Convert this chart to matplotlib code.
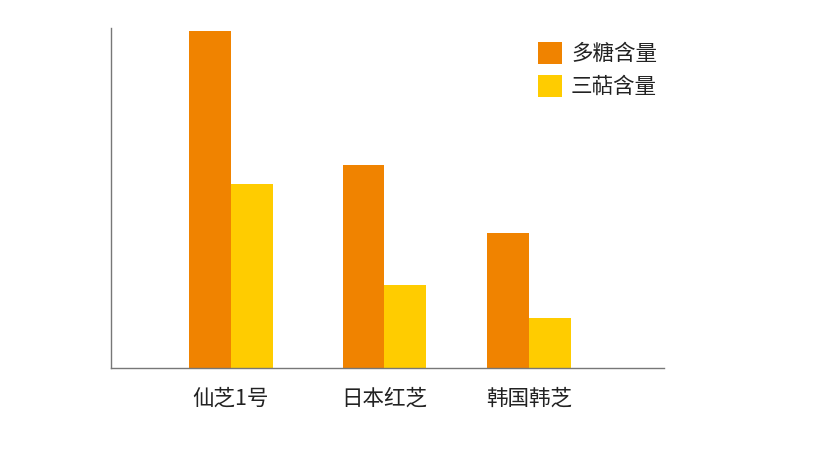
import numpy as np
import matplotlib
matplotlib.use('Agg')
import matplotlib.pyplot as plt

plt.rcParams['font.family'] = ['Noto Sans CJK SC', 'DejaVu Sans']

# data (arbitrary units)
categories = ['仙芝1号', '日本红芝', '韩国韩芝']
polysaccharide = [337, 203, 135]   # 多糖含量
triterpene = [184, 83, 50]         # 三萜含量
series_names = ['多糖含量', '三萜含量']

ORANGE = '#F08300'
YELLOW = '#FFCC00'

fig = plt.figure(figsize=(8.28, 4.65), dpi=100)
ax = fig.add_axes([111/828, 1-368/465, (664-111)/828, (368-28)/465])

# group centres are slightly uneven in the original
x = np.array([0, 1.03, 2.0])
w = 0.279
ax.bar(x - w/2, polysaccharide, w, color=ORANGE, label=series_names[0])
ax.bar(x + w/2, triterpene, w, color=YELLOW, label=series_names[1])

ax.set_xlim(-0.805, 2.906)
ax.set_ylim(0, 340)

for s in ['top', 'right']:
    ax.spines[s].set_visible(False)
for s in ['left', 'bottom']:
    ax.spines[s].set_color('#777777')
    ax.spines[s].set_linewidth(1.0)

ax.set_yticks([])
ax.set_xticks(x)
ax.set_xticklabels(categories, fontsize=15.5, color='#222222')
ax.tick_params(axis='x', length=0, pad=14)

leg = ax.legend(loc='upper left', bbox_to_anchor=(529/828, 1-33/465),
                bbox_transform=fig.transFigure, frameon=False,
                fontsize=15.5, handlelength=1.15, handleheight=1.2,
                handletextpad=0.4, labelspacing=0.45, borderaxespad=0)
for t in leg.get_texts():
    t.set_color('#222222')

fig.savefig('out.png', dpi=100)
